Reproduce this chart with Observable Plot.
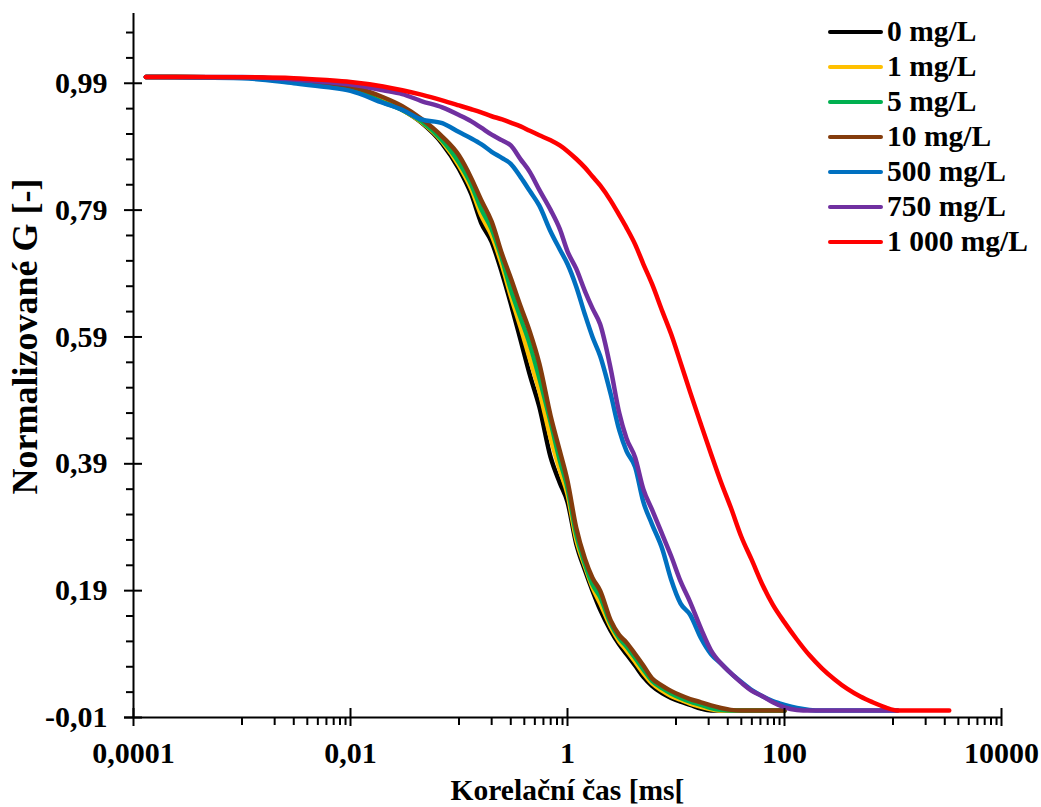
<!DOCTYPE html>
<html><head><meta charset="utf-8">
<script src="https://cdn.jsdelivr.net/npm/d3@7"></script>
<script src="https://cdn.jsdelivr.net/npm/@observablehq/plot@0.6"></script>
<style>
body{margin:0;background:#fff;}
#wrap{position:relative;width:1041px;height:807px;font-family:'Liberation Serif','Times New Roman',serif;font-weight:bold;}
.legend{position:absolute;left:828px;top:14px;}
.item{display:flex;align-items:center;height:35px;font-size:29.5px;line-height:35px;color:#000;}
.swatch{width:55px;height:4px;border-radius:2px;margin-right:4px;}
</style></head><body><div id="wrap"></div>
<script>
// Correlation time [ms]
const times = [0.00013, 0.001, 0.003, 0.006, 0.01, 0.02, 0.03, 0.045, 0.07, 0.1,
  0.13, 0.16, 0.2, 0.25, 0.3, 0.37, 0.45, 0.55, 0.7, 0.85,
  1.0, 1.2, 1.45, 1.7, 2.0, 2.5, 3.0, 3.5, 4.2, 5,
  6, 7.5, 9, 11, 13.5, 17, 21, 26, 32, 40,
  50, 62, 78, 100, 130, 170, 220, 290, 380, 500,
  650, 850, 1100, 1500, 2000, 2700, 3300];

const g0 = [1.0, 0.999, 0.995, 0.99, 0.982, 0.963, 0.948, 0.928, 0.895, 0.855,
  0.815, 0.77, 0.74, 0.69, 0.643, 0.585, 0.53, 0.48, 0.40, 0.36,
  0.33, 0.265, 0.222, 0.19, 0.16, 0.127, 0.105, 0.09, 0.072, 0.054,
  0.04, 0.028, 0.021, 0.015, 0.01, 0.004, 0.001, 0.001, 0.001, 0.001,
  0.001, 0.001, 0.001, 0.001, null, null, null, null, null, null,
  null, null, null, null, null, null, null];

const g1 = [1.0, 0.999, 0.995, 0.99, 0.983, 0.962, 0.948, 0.929, 0.898, 0.86,
  0.823, 0.782, 0.75, 0.702, 0.655, 0.605, 0.555, 0.505, 0.43, 0.38,
  0.342, 0.272, 0.228, 0.195, 0.17, 0.133, 0.11, 0.096, 0.078, 0.06,
  0.044, 0.032, 0.024, 0.018, 0.012, 0.007, 0.003, 0.001, 0.001, 0.001,
  0.001, 0.001, 0.001, 0.001, null, null, null, null, null, null,
  null, null, null, null, null, null, null];

const g5 = [1.0, 0.999, 0.995, 0.989, 0.982, 0.96, 0.948, 0.93, 0.9, 0.865,
  0.83, 0.792, 0.76, 0.712, 0.665, 0.62, 0.578, 0.525, 0.455, 0.395,
  0.352, 0.28, 0.232, 0.2, 0.18, 0.138, 0.115, 0.102, 0.084, 0.066,
  0.048, 0.036, 0.028, 0.021, 0.015, 0.01, 0.005, 0.002, 0.001, 0.001,
  0.001, 0.001, 0.001, 0.001, null, null, null, null, null, null,
  null, null, null, null, null, null, null];

const g10 = [1.0, 0.999, 0.995, 0.99, 0.985, 0.968, 0.954, 0.934, 0.906, 0.876,
  0.84, 0.806, 0.772, 0.72, 0.683, 0.638, 0.598, 0.548, 0.465, 0.41,
  0.363, 0.29, 0.24, 0.21, 0.19, 0.143, 0.12, 0.108, 0.09, 0.072,
  0.052, 0.04, 0.032, 0.025, 0.019, 0.014, 0.009, 0.005, 0.002, 0.001,
  0.001, 0.001, 0.001, 0.001, null, null, null, null, null, null,
  null, null, null, null, null, null, null];

const g500 = [1.0, 0.998, 0.99, 0.984, 0.978, 0.959, 0.948, 0.933, 0.927, 0.913,
  0.903, 0.894, 0.882, 0.872, 0.863, 0.842, 0.82, 0.797, 0.756, 0.728,
  0.705, 0.67, 0.625, 0.59, 0.56, 0.5, 0.443, 0.41, 0.385, 0.33,
  0.295, 0.255, 0.208, 0.17, 0.152, 0.115, 0.09, 0.075, 0.06, 0.046,
  0.033, 0.024, 0.016, 0.01, 0.005, 0.002, 0.001, 0.001, 0.001, 0.001,
  0.001, 0.001, 0.001, null, null, null, null];

const g750 = [1.0, 1.0, 0.996, 0.992, 0.988, 0.979, 0.973, 0.962, 0.952, 0.94,
  0.93, 0.92, 0.909, 0.9, 0.892, 0.87, 0.85, 0.822, 0.79, 0.76,
  0.725, 0.698, 0.662, 0.635, 0.61, 0.54, 0.47, 0.43, 0.4, 0.35,
  0.318, 0.278, 0.245, 0.205, 0.172, 0.13, 0.096, 0.075, 0.06, 0.045,
  0.032, 0.024, 0.014, 0.006, 0.002, 0.001, 0.001, 0.001, 0.001, 0.001,
  0.001, 0.001, 0.001, null, null, null, null];

const g1000 = [1.0, 0.9995, 0.998, 0.995, 0.992, 0.985, 0.979, 0.972, 0.963, 0.955,
  0.949, 0.944, 0.938, 0.933, 0.928, 0.922, 0.915, 0.908, 0.9, 0.892,
  0.883, 0.871, 0.857, 0.843, 0.829, 0.805, 0.782, 0.762, 0.736, 0.705,
  0.674, 0.63, 0.595, 0.55, 0.503, 0.452, 0.406, 0.361, 0.321, 0.275,
  0.238, 0.201, 0.168, 0.14, 0.113, 0.088, 0.068, 0.05, 0.035, 0.023,
  0.014, 0.006, 0.001, 0.001, 0.001, 0.001, 0.001];

const seriesNames = ["0 mg/L", "1 mg/L", "5 mg/L", "10 mg/L", "500 mg/L", "750 mg/L", "1 000 mg/L"];
const seriesColors = ["#000000", "#FFC000", "#00B050", "#843C0C", "#0070C0", "#7030A0", "#FF0000"];
const seriesValues = [g0, g1, g5, g10, g500, g750, g1000];

const xTicks = [0.0001, 0.01, 1, 100, 10000];
const xTickLabels = ["0,0001", "0,01", "1", "100", "10000"];
const yTicks = [-0.01, 0.19, 0.39, 0.59, 0.79, 0.99];
const yTickLabels = ["-0,01", "0,19", "0,39", "0,59", "0,79", "0,99"];
const xTitle = "Korelační čas [ms[";
const yTitle = "Normalizované G [-]";

// minor ticks (log base 100 style: 10..90 multiples of each major)
const xMinor = [];
xTicks.slice(0, -1).forEach(m => { for (let k = 1; k <= 9; k++) xMinor.push(m * 10 * k); });
const yMinor = [];
for (let k = 0; k <= 27; k++) {
  const v = +(-0.01 + 0.04 * k).toFixed(2);
  if (!yTicks.some(t => Math.abs(t - v) < 1e-9)) yMinor.push(v);
}

const W = 1041, H = 807, mL = 133, mR = 40, mT = 13, mB = 90;
const frameW = W - mL - mR, frameH = H - mT - mB;

const lineMarks = seriesValues.map((vals, i) => {
  const rows = times.map((t, j) => ({t, g: vals[j]})).filter(d => d.g != null);
  return Plot.line(rows, {x: "t", y: "g", stroke: seriesColors[i], strokeWidth: 4.5,
    curve: "monotone-x", strokeLinecap: "round", strokeLinejoin: "round"});
});

const plot = Plot.plot({
  width: W, height: H,
  marginLeft: mL, marginRight: mR, marginTop: mT, marginBottom: mB,
  style: {fontFamily: "'Liberation Serif','Times New Roman',serif", fontSize: "30px", fontWeight: "bold", color: "#000", background: "#fff"},
  x: {type: "log", domain: [0.0001, 10000]},
  y: {domain: [-0.01, 1.1]},
  marks: [
    ...lineMarks,
    Plot.ruleX([0.0001], {stroke: "#000", strokeWidth: 2}),
    Plot.ruleY([-0.01], {stroke: "#000", strokeWidth: 2, insetLeft: -9}),
    Plot.axisY(yTicks, {tickSize: 9, tickPadding: 17, strokeWidth: 2, label: null, fontSize: 30,
      tickFormat: d => yTickLabels[yTicks.indexOf(d)]}),
    Plot.axisY(yMinor, {tickSize: 7, strokeWidth: 2, label: null, tickFormat: () => ""}),
    Plot.ruleY(yTicks, {stroke: "#000", strokeWidth: 2, insetRight: frameW - 9}),
    Plot.axisX(xTicks, {tickSize: 9, tickPadding: 15, strokeWidth: 2, label: null, fontSize: 30,
      tickFormat: d => xTickLabels[xTicks.indexOf(d)]}),
    Plot.axisX(xMinor, {tickSize: 8, strokeWidth: 2, label: null, tickFormat: () => ""}),
    Plot.ruleX(xTicks, {stroke: "#000", strokeWidth: 2, insetTop: frameH - 9}),
    Plot.text([xTitle], {text: d => d, frameAnchor: "bottom", dy: 73, lineAnchor: "middle", textAnchor: "middle", fontSize: 29.5}),
    Plot.text([yTitle], {text: d => d, frameAnchor: "left", rotate: -90, dx: -108, dy: -29, lineAnchor: "middle", textAnchor: "middle", fontSize: 36})
  ]
});

const wrap = document.getElementById("wrap");
wrap.appendChild(plot);
const legend = document.createElement("div");
legend.className = "legend";
seriesNames.forEach((n, i) => {
  const it = document.createElement("div");
  it.className = "item";
  const sw = document.createElement("span");
  sw.className = "swatch";
  sw.style.background = seriesColors[i];
  const tx = document.createElement("span");
  tx.textContent = n;
  it.appendChild(sw); it.appendChild(tx);
  legend.appendChild(it);
});
wrap.appendChild(legend);
</script></body></html>
